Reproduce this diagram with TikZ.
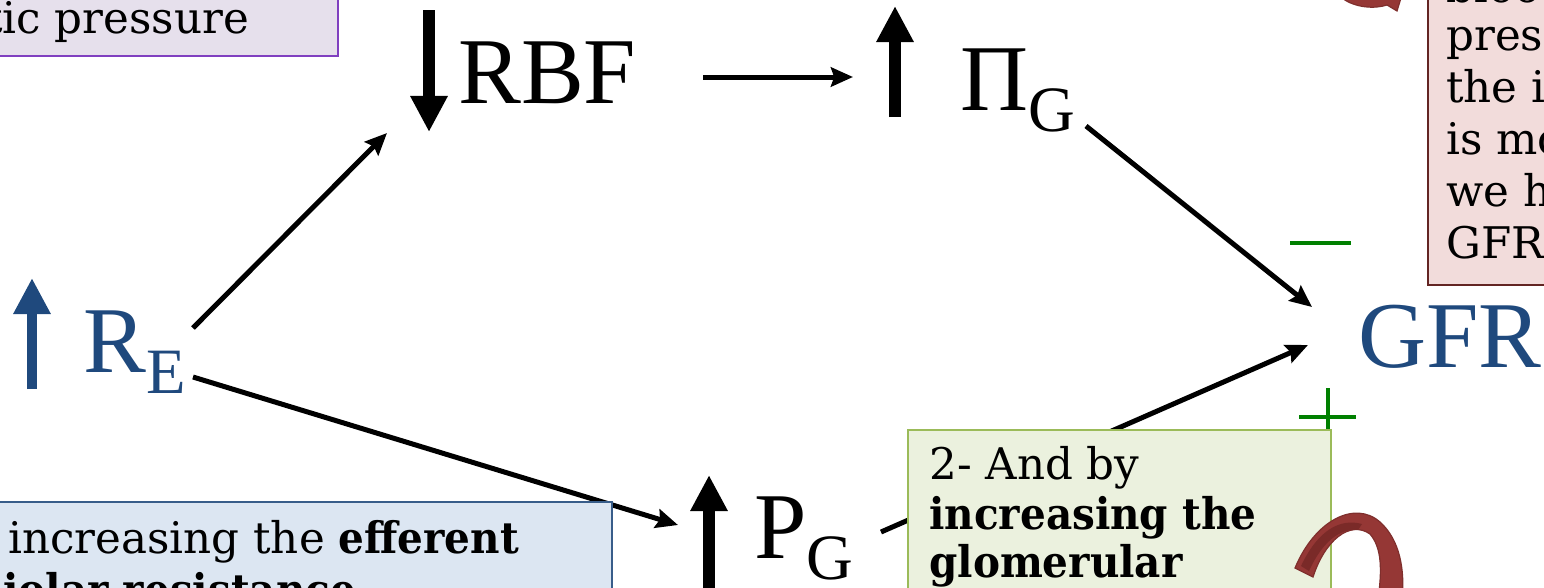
\documentclass[tikz,border=0pt]{standalone}
\usepackage{fontspec}
\setmainfont{DejaVu Serif}
\newfontfamily\tnr{Liberation Serif}
\usetikzlibrary{arrows.meta}
\definecolor{tblue}{HTML}{1F497D}
\definecolor{sgreen}{HTML}{008000}
\definecolor{purpfill}{HTML}{E6E0EC}
\definecolor{purpline}{HTML}{8040C0}
\definecolor{redfill}{HTML}{F2DCDB}
\definecolor{redline}{HTML}{632523}
\definecolor{bluefill}{HTML}{DCE6F2}
\definecolor{blueline}{HTML}{385D8A}
\definecolor{grnfill}{HTML}{EBF1DE}
\definecolor{grnline}{HTML}{9BBB59}
\definecolor{curvfill}{HTML}{953735}
\definecolor{curvdark}{HTML}{7A2A28}
\newcommand{\bigsz}{\tnr\fontsize{67}{67}\selectfont}
\newcommand{\mysub}[1]{\raisebox{-15pt}{\fontsize{46}{46}\selectfont #1}}
\newcommand{\boxsz}{\fontsize{31}{37}\selectfont}
\newcommand{\bx}[1]{\scalebox{0.93}[1]{\bfseries #1}}
\tikzset{
  lab/.style={inner sep=0pt, anchor=base west, font=\bigsz},
  boxtxt/.style={inner sep=0pt, anchor=base west, font=\boxsz},
  conn/.style={line width=0.125cm, -{Stealth[length=0.55cm,width=0.48cm,inset=0.08cm]}},
  fat/.style={line width=0.3cm, -{Triangle[length=0.9cm,width=0.875cm]}},
  sign/.style={sgreen, line width=0.1cm},
  curv/.style={fill=curvfill, draw=curvfill!85!black, line width=0.03cm}
}
\begin{document}
\begin{tikzpicture}[x=0.025cm,y=-0.025cm]
\useasboundingbox (0,0) rectangle (1544,587);
\clip (0,0) rectangle (1544,587);

% main labels
\node[lab] (RBF) at (458,103) {RBF};
\node[lab] (PiG) at (960,110) {Π\mysub{G}};
\node[lab, text=tblue] (RE) at (83,372) {R\mysub{E}};
\node[lab] (PG) at (754,558) {P\mysub{G}};
\node[lab, text=tblue] (GFR) at (1358,367) {GFR};

% thick arrows
\coordinate (rbfA) at (429,10);  \coordinate (rbfB) at (429,132);
\coordinate (pigA) at (895,117); \coordinate (pigB) at (895,6);
\coordinate (reA) at (32,389);   \coordinate (reB) at (32,278);
\coordinate (pgA) at (709,620);  \coordinate (pgB) at (709,475);
\draw[fat] (rbfA) -- (rbfB);
\draw[fat] (pigA) -- (pigB);
\draw[fat, tblue, line width=0.23cm] (reA) -- (reB);
\draw[fat] (pgA) -- (pgB);

% connectors
\coordinate (c1s) at (193,328); \coordinate (c1e) at (387,133);
\coordinate (c2s) at (193,377); \coordinate (c2e) at (678,525);
\coordinate (c3s) at (703,77);  \coordinate (c3e) at (853,77);
\coordinate (c4s) at (1086,126); \coordinate (c4e) at (1312,307);
\coordinate (c5s) at (881,532); \coordinate (c5e) at (1308,345);
\draw[conn] (c1s) -- (c1e);
\draw[conn] (c2s) -- (c2e);
\draw[conn] (c3s) -- (c3e);
\draw[conn] (c4s) -- (c4e);
\draw[conn] (c5s) -- (c5e);

% signs
\coordinate (mA) at (1290,243); \coordinate (mB) at (1351,243);
\draw[sign] (mA) -- (mB);
\coordinate (pA) at (1299,417); \coordinate (pB) at (1356,417);
\coordinate (pC) at (1328,388); \coordinate (pD) at (1328,440);
\draw[sign] (pA) -- (pB);
\draw[sign] (pC) -- (pD);

% purple box
\draw[fill=purpfill, draw=purpline, line width=0.05cm] (-10,-10) rectangle (338,56);
\node[boxtxt] (ptxt) at (-15,33) {tic pressure};

% red box
\draw[fill=redfill, draw=redline, line width=0.05cm] (1428,-10) rectangle (1560,285);
\node[boxtxt] (r0) at (1446,2) {bloo};
\node[boxtxt] (r1) at (1446,50) {press};
\node[boxtxt] (r2) at (1446,102) {the in};
\node[boxtxt] (r3) at (1446,154) {is mo};
\node[boxtxt] (r4) at (1446,206) {we h};
\node[boxtxt] (r5) at (1446,258) {GFR};

% blue box
\draw[fill=bluefill, draw=blueline, line width=0.05cm] (-10,502) rectangle (612,620);
\node[boxtxt] (b1) at (8,553) {increasing the \bx{efferent}};
\node[boxtxt] (b2) at (3,605) {\bx{iolar resistance}};

% green box
\draw[fill=grnfill, draw=grnline, line width=0.05cm] (908,430) rectangle (1331,620);
\node[boxtxt] (g1) at (929,479) {2- And by};
\node[boxtxt] (g2) at (929,529) {\bx{increasing the}};
\node[boxtxt] (g3) at (929,577) {\bx{glomerular}};

% curved arrows
\path[curv] (1342,-2) .. controls (1355,8) and (1375,9) .. (1387,5) -- (1397,11) -- (1401,-2) -- cycle;
\path[curv] (1295,568) .. controls (1315,520) and (1355,500) .. (1380,522)
  .. controls (1400,540) and (1405,570) .. (1402,600) -- (1378,600)
  .. controls (1382,570) and (1382,548) .. (1370,534)
  .. controls (1350,520) and (1325,540) .. (1313,577) -- cycle;
\path[fill=curvdark] (1301,566) .. controls (1318,530) and (1340,518) .. (1362,524)
  -- (1358,530) .. controls (1340,528) and (1322,542) .. (1309,571) -- cycle;
\end{tikzpicture}
\end{document}
